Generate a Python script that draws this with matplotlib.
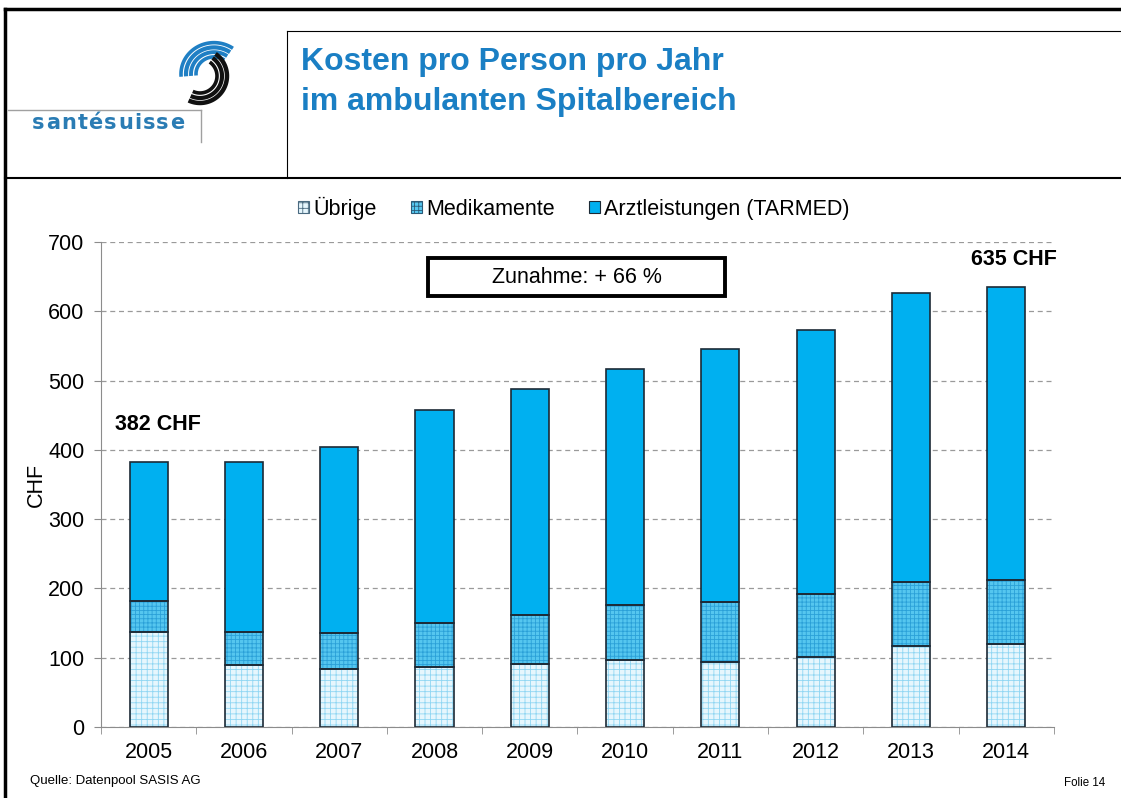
import numpy as np
import matplotlib
matplotlib.use("Agg")
import matplotlib.pyplot as plt
from matplotlib.patches import Patch, Rectangle

plt.rcParams["font.family"] = ["Liberation Sans", "DejaVu Sans"]
plt.rcParams["hatch.linewidth"] = 0.6

# data (CHF per person and year)
years = ["2005", "2006", "2007", "2008", "2009", "2010", "2011", "2012", "2013", "2014"]
uebrige = [137, 90, 84, 87, 91, 97, 94, 101, 117, 120]
medikamente = [45, 47, 52, 63, 71, 79, 86, 91, 92, 92]
arzt = [200, 245, 268, 307, 326, 341, 365, 381, 417, 423]
series_names = ["Übrige", "Medikamente", "Arztleistungen (TARMED)"]

FS = 15.5

fig = plt.figure(figsize=(11.21, 7.98), dpi=100)
renderer = fig.canvas.get_renderer()

# slide frame in pixel coordinates
bg = fig.add_axes([0, 0, 1, 1], zorder=0)
bg.set_xlim(0, 1121)
bg.set_ylim(798, 0)
bg.axis("off")
bg.plot([5, 5], [9, 798], color="black", lw=2.5)
bg.plot([5, 1121], [9, 9], color="black", lw=2.5)
bg.plot([5, 1121], [178, 178], color="black", lw=1.5)
bg.plot([287, 287], [31, 178], color="black", lw=0.8)
bg.plot([287, 1121], [31, 31], color="black", lw=0.8)

# logo
bg.plot([8, 201], [110, 110], color="#a0a0a0", lw=1)
bg.plot([201, 201], [110, 142], color="#a0a0a0", lw=1)
xpos = 32
for ch in "santésuisse":
    t = bg.text(xpos, 123, ch, fontsize=15, fontweight="bold", color="#2a7cb4",
                va="center", ha="left", family="DejaVu Sans")
    xpos += t.get_window_extent(renderer).width + 1.3
for r, lw in [(18, 2.6), (23, 2.8), (28, 3.0), (33, 2.6)]:
    t = np.radians(np.linspace(55, 185, 60))
    bg.plot(214 + r * np.cos(t), 74 - r * np.sin(t) * 0.95, color="#1f7fc4", lw=lw,
            solid_capstyle="butt")
for r, lw in [(17, 2.6), (22, 3.0), (27, 3.2)]:
    t = np.radians(np.linspace(55, -115, 60))
    bg.plot(200 + r * np.cos(t), 76 - r * np.sin(t), color="#111111", lw=lw,
            solid_capstyle="butt")

bg.text(301, 62, "Kosten pro Person pro Jahr", fontsize=23,
        fontweight="bold", color="#1a7fc4", va="center", ha="left")
bg.text(301, 102, "im ambulanten Spitalbereich", fontsize=23,
        fontweight="bold", color="#1a7fc4", va="center", ha="left")
bg.text(30, 781, "Quelle: Datenpool SASIS AG", fontsize=9.5, va="center", ha="left")
bg.text(1105, 783, "Folie 14", fontsize=8.3, va="center", ha="right")

# chart
ax = fig.add_axes([0.0901, 0.089, 0.850, 0.6077], zorder=2)
ax.patch.set_alpha(0)
x = np.arange(len(years))
w = 0.4
edge = "#1c2a36"

u = np.array(uebrige)
m = np.array(medikamente)
a = np.array(arzt)

ax.bar(x, u, w, color="#e6f6fd", hatch="+++", edgecolor="#8fd6f3", lw=0, zorder=3)
ax.bar(x, m, w, bottom=u, color="#55c6ef", hatch="++++", edgecolor="#2aa0d8", lw=0, zorder=3)
ax.bar(x, a, w, bottom=u + m, color="#00b0f0", lw=0, zorder=3)
for bottom, h in [(0, u), (u, m), (u + m, a)]:
    ax.bar(x, h, w, bottom=bottom, fill=False, edgecolor=edge, lw=1.2, zorder=4)

ax.set_xlim(-0.5, 9.5)
ax.set_ylim(0, 700)
ax.set_yticks(range(0, 701, 100))
ax.set_xticks(x)
ax.set_xticklabels(years)
ax.set_xticks(np.arange(-0.5, 10, 1), minor=True)
ax.tick_params(axis="x", which="major", length=0, labelsize=FS, pad=11)
ax.tick_params(axis="x", which="minor", length=5, color="#8c8c8c")
ax.tick_params(axis="y", length=5, color="#8c8c8c", labelsize=FS, pad=7)
ax.yaxis.grid(True, linestyle=(0, (4, 3)), color="#9a9a9a", lw=0.9, zorder=1)
for s in ["top", "right"]:
    ax.spines[s].set_visible(False)
for s in ["left", "bottom"]:
    ax.spines[s].set_color("#8c8c8c")
ax.set_ylabel("CHF", fontsize=FS, labelpad=1)

ax.text(-0.35, 436, f"{uebrige[0] + medikamente[0] + arzt[0]} CHF", fontsize=FS,
        fontweight="bold", ha="left", va="center")
ax.text(9.08, 675, f"{uebrige[-1] + medikamente[-1] + arzt[-1]} CHF", fontsize=FS,
        fontweight="bold", ha="center", va="center", clip_on=False)
ax.add_patch(Rectangle((2.93, 622), 3.12, 55, fill=False, lw=2.8, edgecolor="black",
                       zorder=5))
ax.text(4.49, 649.5, "Zunahme: + 66 %", fontsize=FS, ha="center", va="center", zorder=6)

handles = [
    Patch(facecolor="#e6f6fd", edgecolor="#4a6a80", hatch="+++", lw=0.8),
    Patch(facecolor="#55c6ef", edgecolor="#2a5a78", hatch="++++", lw=0.8),
    Patch(facecolor="#00b0f0", edgecolor=edge, lw=0.8),
]
fig.legend(handles, series_names, loc="center", bbox_to_anchor=(574 / 1121, 1 - 208 / 798),
           ncol=3, frameon=False, fontsize=FS, handlelength=0.5, handleheight=0.5,
           handletextpad=0.2, columnspacing=1.6)

fig.savefig("out.png", dpi=100)
